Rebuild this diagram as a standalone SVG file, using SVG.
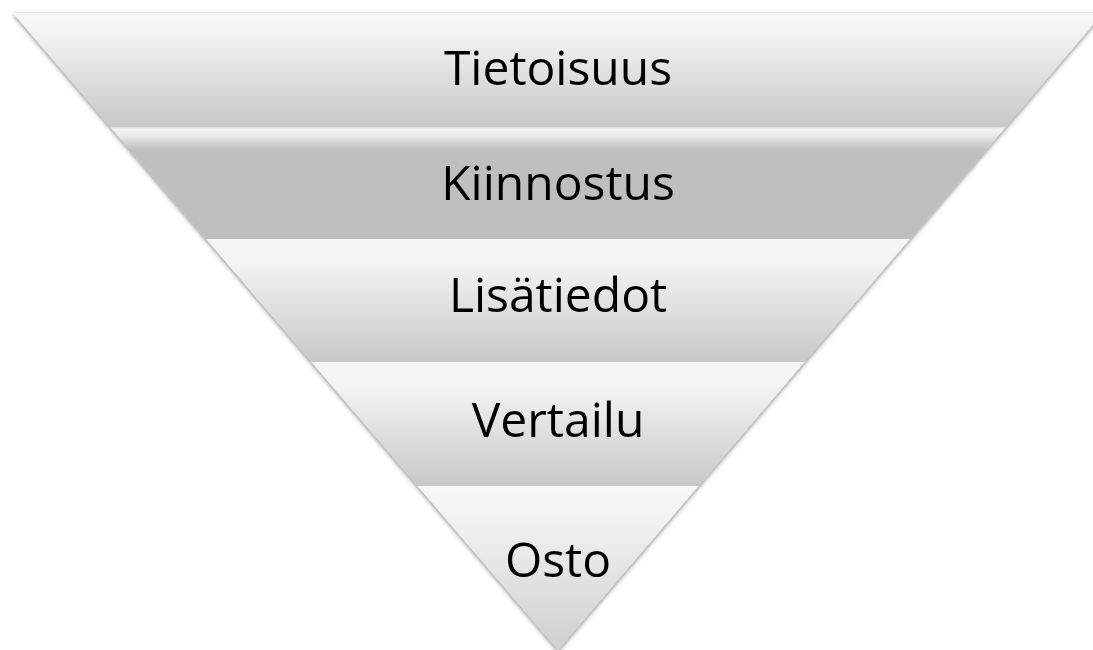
<svg xmlns="http://www.w3.org/2000/svg" width="1093" height="650" viewBox="0 0 1093 650">
<style>
.lbl{font-family:"Open Sans","Liberation Sans",sans-serif;font-size:48px;fill:#000;text-anchor:middle}
</style>
<defs>
<filter id="sh" x="-5%" y="-5%" width="110%" height="110%">
<feDropShadow dx="0" dy="1.5" stdDeviation="2" flood-color="#000" flood-opacity="0.5"/>
</filter>
<linearGradient id="g1" x1="0" y1="0" x2="0" y2="1">
<stop offset="0" stop-color="#f8f8f8"/><stop offset="0.22" stop-color="#f1f1f1"/><stop offset="1" stop-color="#c8c8c8"/>
</linearGradient>
<linearGradient id="g2" x1="0" y1="0" x2="0" y2="1">
<stop offset="0" stop-color="#dcdcdc"/><stop offset="0.02" stop-color="#f4f4f4"/><stop offset="0.08" stop-color="#eaeaea"/><stop offset="0.2" stop-color="#bfbfbf"/><stop offset="1" stop-color="#bebebe"/>
</linearGradient>
<linearGradient id="g3" x1="0" y1="0" x2="0" y2="1">
<stop offset="0" stop-color="#f6f6f6"/><stop offset="0.2" stop-color="#f3f3f3"/><stop offset="1" stop-color="#c8c8c8"/>
</linearGradient>
<linearGradient id="g5" x1="0" y1="0" x2="0" y2="1">
<stop offset="0" stop-color="#f7f7f7"/><stop offset="0.2" stop-color="#f2f2f2"/><stop offset="1" stop-color="#cfcfcf"/>
</linearGradient>
</defs>
<g filter="url(#sh)">
<g id="band1"><polygon points="13,13 1103,13 1005.7,127 110.3,127" fill="url(#g1)"/><text class="lbl" x="558" y="85">Tietoisuus</text></g>
<g id="band2"><polygon points="110.3,127 1005.7,127 909.8,239 206.2,239" fill="url(#g2)"/><text class="lbl" x="558" y="200">Kiinnostus</text></g>
<g id="band3"><polygon points="206.2,239 909.8,239 804.5,362 311.5,362" fill="url(#g3)"/><text class="lbl" x="558" y="312">Lisätiedot</text></g>
<g id="band4"><polygon points="311.5,362 804.5,362 698.4,486 417.6,486" fill="url(#g3)"/><text class="lbl" x="558" y="437">Vertailu</text></g>
<g id="band5"><polygon points="417.6,486 698.4,486 558,650" fill="url(#g5)"/><text class="lbl" x="558" y="577">Osto</text></g>
</g>
<g id="connectors"/>
</svg>
